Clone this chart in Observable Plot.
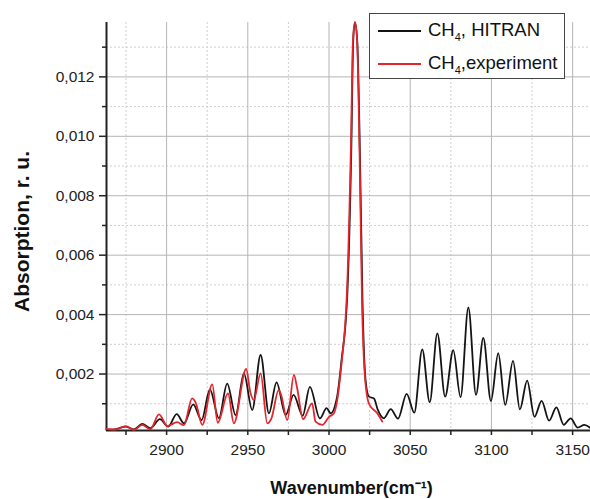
<!DOCTYPE html>
<html>
<head>
<meta charset="utf-8">
<script src="https://cdn.jsdelivr.net/npm/d3@7"></script>
<script src="https://cdn.jsdelivr.net/npm/@observablehq/plot@0.6"></script>
<style>
  html, body { margin: 0; padding: 0; background: #fff; }
  #wrap { position: relative; width: 590px; height: 499px; font-family: "Liberation Sans", Arial, sans-serif; }
  #legend { position: absolute; left: 369px; top: 13px; width: 194px; height: 64px; border: 1px solid #444; background: #fff; font-size: 18.5px; color: #111; }
  .row { position: absolute; left: 8px; height: 33px; display: flex; align-items: center; }
  .sw { width: 43px; height: 2px; margin-right: 7px; }
  sub { font-size: 11px; vertical-align: -5px; }
</style>
</head>
<body>
<div id="wrap">
  <div id="chart"></div>
  <div id="legend"></div>
</div>
<script>
// ---- data ----
const seriesNames = ["CH\u2084, HITRAN", "CH\u2084,experiment"];
const seriesColors = ["#141414", "#e3262d"];

const hitranWn = [2863, 2869, 2874.8, 2880, 2885, 2890, 2895.9, 2901, 2906.2, 2910.7, 2916.4, 2921.5, 2926.7, 2932.2, 2937.3, 2942.5, 2947.6, 2952.7, 2957.9, 2963, 2967.7, 2973.3, 2978.2, 2983.8, 2988.2, 2994.4, 2998.5, 3001, 3005, 3008, 3010.2, 3011.2, 3013.7, 3014.9, 3016, 3017.4, 3019, 3020.6, 3022.5, 3024.6, 3027.7, 3030, 3033.8, 3038, 3042.5, 3047.8, 3052.5, 3057.4, 3062, 3066.7, 3071.5, 3076.5, 3081, 3085.8, 3090.5, 3095, 3099.7, 3104.2, 3108.5, 3113.3, 3117.5, 3122, 3126.5, 3130.9, 3135.5, 3140, 3144.5, 3148.8, 3153, 3157.3, 3161];
const hitranAbs = [0.00012, 0.00015, 0.00023, 0.00014, 0.00032, 0.00018, 0.00048, 0.00023, 0.00065, 0.00034, 0.00098, 0.00045, 0.00148, 0.00051, 0.00168, 0.00062, 0.00202, 0.00079, 0.00264, 0.00068, 0.00172, 0.00062, 0.0013, 0.0006, 0.00157, 0.00051, 0.00085, 0.00068, 0.00124, 0.0026, 0.0037, 0.0046, 0.0095, 0.0132, 0.01382, 0.0132, 0.0095, 0.0045, 0.0018, 0.00124, 0.00118, 0.0008, 0.00051, 0.00082, 0.0005, 0.00133, 0.0007, 0.00283, 0.00105, 0.00337, 0.00124, 0.0028, 0.00122, 0.00424, 0.0013, 0.00322, 0.00109, 0.0027, 0.00096, 0.00244, 0.00081, 0.00178, 0.00056, 0.0011, 0.00043, 0.00088, 0.00029, 0.00051, 0.0002, 0.00029, 0.00018];

const exptWn = [2863, 2868.5, 2874.8, 2880, 2885, 2890, 2895.3, 2900.5, 2906.4, 2910.7, 2915.7, 2917.9, 2922, 2928.1, 2931.5, 2937.8, 2941.4, 2949, 2951.5, 2953.7, 2957.9, 2962, 2964.5, 2969, 2970.5, 2974.3, 2978.4, 2980.4, 2984, 2989.6, 2991.7, 2995.9, 3000, 3003, 3005, 3008, 3010, 3011, 3013.5, 3014.8, 3016, 3017.3, 3018.8, 3020.3, 3022, 3024.6, 3029.7, 3032.8];
const exptAbs = [0.00015, 0.00013, 0.00025, 0.00012, 0.00029, 0.00014, 0.00064, 0.00025, 0.00038, 0.00028, 0.00118, 0.00104, 0.00029, 0.00165, 0.00036, 0.00135, 0.00034, 0.00217, 0.0014, 0.00113, 0.00202, 0.00034, 0.0005, 0.00146, 0.0013, 0.00045, 0.00197, 0.00152, 0.00048, 0.00101, 0.0004, 0.00029, 0.00056, 0.00068, 0.0011, 0.0025, 0.0037, 0.0047, 0.0097, 0.0133, 0.01385, 0.0132, 0.0095, 0.0045, 0.002, 0.001, 0.00068, 0.0004];

const xDomain = [2863, 3161];
const yDomain = [0.0001, 0.01383];
const xMajorTicks = [2900, 2950, 3000, 3050, 3100, 3150];
const xMinorTicks = [2875, 2925, 2975, 3025, 3075, 3125];
const yMajorTicks = [0.002, 0.004, 0.006, 0.008, 0.010, 0.012];
const yMinorTicks = [0.001, 0.003, 0.005, 0.007, 0.009, 0.011, 0.013];
const xTitle = "Wavenumber(cm\u207B\u00B9)";
const yTitle = "Absorption, r. u.";

// ---- build tables ----
const hitran = hitranWn.map((w, i) => ({wn: w, abs: hitranAbs[i]}));
const expt = exptWn.map((w, i) => ({wn: w, abs: exptAbs[i]}));
const fmtY = d => d3.format(".3f")(d).replace(".", ",");
const fmtX = d => String(d);

const chart = Plot.plot({
  width: 590,
  height: 499,
  marginLeft: 106,
  marginRight: 0,
  marginTop: 22,
  marginBottom: 69,
  style: {fontFamily: "Liberation Sans, Arial, sans-serif", background: "#fff"},
  x: {domain: xDomain},
  y: {domain: yDomain},
  marks: [
    Plot.gridX(xMinorTicks, {stroke: "#cfcfcf", strokeOpacity: 1, strokeDasharray: "2,2"}),
    Plot.gridY(yMinorTicks, {stroke: "#cfcfcf", strokeOpacity: 1, strokeDasharray: "2,2"}),
    Plot.gridX(xMajorTicks, {stroke: "#b5b5b5", strokeOpacity: 1}),
    Plot.gridY(yMajorTicks, {stroke: "#b5b5b5", strokeOpacity: 1}),
    Plot.axisY(yMajorTicks, {tickSize: 7, tickPadding: 5, tickFormat: fmtY, fontSize: 15.5, color: "#222", label: null, strokeWidth: 1.5}),
    Plot.axisY(yMinorTicks, {tickSize: 4, tickFormat: () => "", label: null, strokeWidth: 1.5, color: "#222"}),
    Plot.axisX(xMajorTicks, {tickSize: 5, tickPadding: 8, tickFormat: fmtX, fontSize: 15.5, color: "#222", label: null, strokeWidth: 1.5}),
    Plot.axisX(xMinorTicks, {tickSize: 5, tickFormat: () => "", label: null, strokeWidth: 1.5, color: "#222"}),
    Plot.ruleX([xDomain[0]], {stroke: "#222", strokeWidth: 2}),
    Plot.ruleY([yDomain[0]], {stroke: "#222", strokeWidth: 2}),
    Plot.line(hitran, {x: "wn", y: "abs", stroke: seriesColors[0], strokeWidth: 1.8, curve: "monotone-x"}),
    Plot.line(expt, {x: "wn", y: "abs", stroke: seriesColors[1], strokeWidth: 1.8, curve: "monotone-x"}),
    Plot.text([yTitle], {frameAnchor: "left", dx: -84, dy: 5, rotate: -90, textAnchor: "middle", lineAnchor: "middle", fontSize: 21, fontWeight: "bold", fill: "#111"}),
    Plot.text([xTitle], {frameAnchor: "bottom", dx: 3, dy: 58, textAnchor: "middle", lineAnchor: "middle", fontSize: 18, fontWeight: "bold", fill: "#111"})
  ]
});
document.getElementById("chart").appendChild(chart);

// legend
const legend = document.getElementById("legend");
seriesNames.forEach((name, i) => {
  const row = document.createElement("div");
  row.className = "row";
  row.style.top = (i * 33) + "px";
  const sw = document.createElement("div");
  sw.className = "sw";
  sw.style.background = seriesColors[i];
  const t = document.createElement("span");
  t.innerHTML = name.replace("\u2084", "<sub>4</sub>");
  row.appendChild(sw);
  row.appendChild(t);
  legend.appendChild(row);
});
</script>
</body>
</html>
